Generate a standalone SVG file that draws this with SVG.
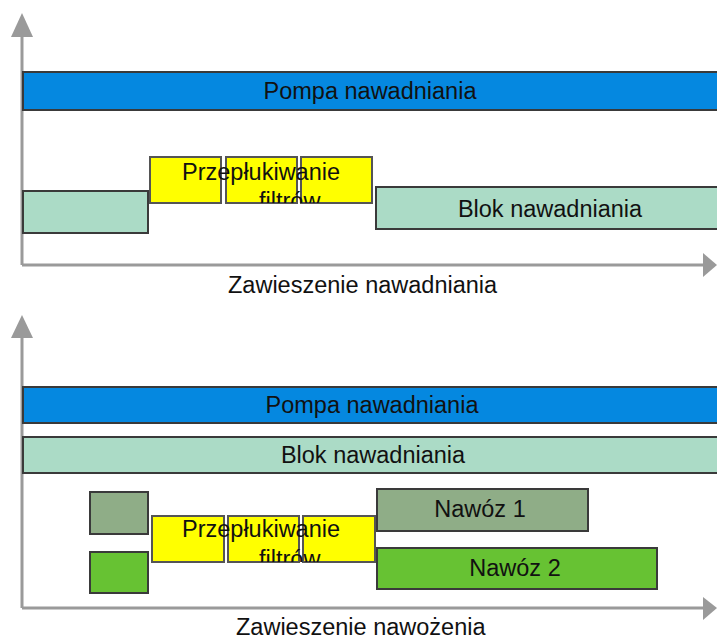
<svg xmlns="http://www.w3.org/2000/svg" width="717" height="639" viewBox="0 0 717 639">
<style>
  text { font-family: "Liberation Sans", Arial, sans-serif; font-size: 23.5px; fill: #111; }
  .bar { stroke: #3a3a3a; stroke-width: 2; }
  .pump { fill: #0588e0; }
  .blok { fill: #abdbc6; }
  .flush { fill: #ffff00; stroke: #555; stroke-width: 2; }
  .n1 { fill: #8fad87; }
  .n2 { fill: #67c233; }
  .axis { stroke: #9a9a9a; stroke-width: 3; fill: none; }
  .head { fill: #9a9a9a; }
  .mid { text-anchor: middle; }
</style>
<defs>
  <clipPath id="clipTop"><rect x="140" y="150" width="240" height="53"/></clipPath>
  <clipPath id="clipBot"><rect x="140" y="510" width="240" height="52"/></clipPath>
</defs>

<g id="connectors">
  <line class="axis" x1="22" y1="36" x2="22" y2="265"/>
  <line class="axis" x1="22" y1="265" x2="704" y2="265"/>
  <polygon class="head" points="22,13 11,37 33,37"/>
  <polygon class="head" points="717,265 703,253 703,277"/>
  <line class="axis" x1="22" y1="337" x2="22" y2="608"/>
  <line class="axis" x1="22" y1="608" x2="704" y2="608"/>
  <polygon class="head" points="22,315 11,338 33,338"/>
  <polygon class="head" points="717,608 703,597 703,620"/>
</g>

<g id="pompa1">
  <rect class="bar pump" x="23" y="72" width="710" height="38"/>
  <text class="mid" x="370" y="99">Pompa nawadniania</text>
</g>
<g id="blok1-left">
  <rect class="bar blok" x="23" y="191" width="125" height="42"/>
</g>
<g id="flush1">
  <rect class="flush" x="150" y="157" width="71" height="46"/>
  <rect class="flush" x="226" y="157" width="71" height="46"/>
  <rect class="flush" x="301" y="157" width="71" height="46"/>
  <g clip-path="url(#clipTop)">
    <text x="182" y="180">Przepłukiwanie</text>
    <text x="259" y="209">filtrów</text>
  </g>
</g>
<g id="blok1-right">
  <rect class="bar blok" x="376" y="187" width="360" height="42"/>
  <text class="mid" x="550" y="217">Blok nawadniania</text>
</g>
<g id="label1">
  <text x="228" y="293">Zawieszenie nawadniania</text>
</g>

<g id="pompa2">
  <rect class="bar pump" x="23" y="387" width="710" height="36"/>
  <text class="mid" x="372" y="413">Pompa nawadniania</text>
</g>
<g id="blok2">
  <rect class="bar blok" x="23" y="437" width="710" height="36"/>
  <text class="mid" x="373" y="463">Blok nawadniania</text>
</g>
<g id="nawoz1-left">
  <rect class="bar n1" x="90" y="492" width="58" height="42"/>
</g>
<g id="nawoz2-left">
  <rect class="bar n2" x="90" y="552" width="58" height="41"/>
</g>
<g id="flush2">
  <rect class="flush" x="152" y="516" width="72" height="46"/>
  <rect class="flush" x="228" y="516" width="71" height="46"/>
  <rect class="flush" x="303" y="516" width="72" height="46"/>
  <g clip-path="url(#clipBot)">
    <text x="182" y="537">Przepłukiwanie</text>
    <text x="259" y="567">filtrów</text>
  </g>
</g>
<g id="nawoz1">
  <rect class="bar n1" x="377" y="489" width="211" height="42"/>
  <text class="mid" x="480" y="517">Nawóz 1</text>
</g>
<g id="nawoz2">
  <rect class="bar n2" x="377" y="548" width="280" height="41"/>
  <text class="mid" x="515" y="576">Nawóz 2</text>
</g>
<g id="label2">
  <text x="236" y="635">Zawieszenie nawożenia</text>
</g>
</svg>
